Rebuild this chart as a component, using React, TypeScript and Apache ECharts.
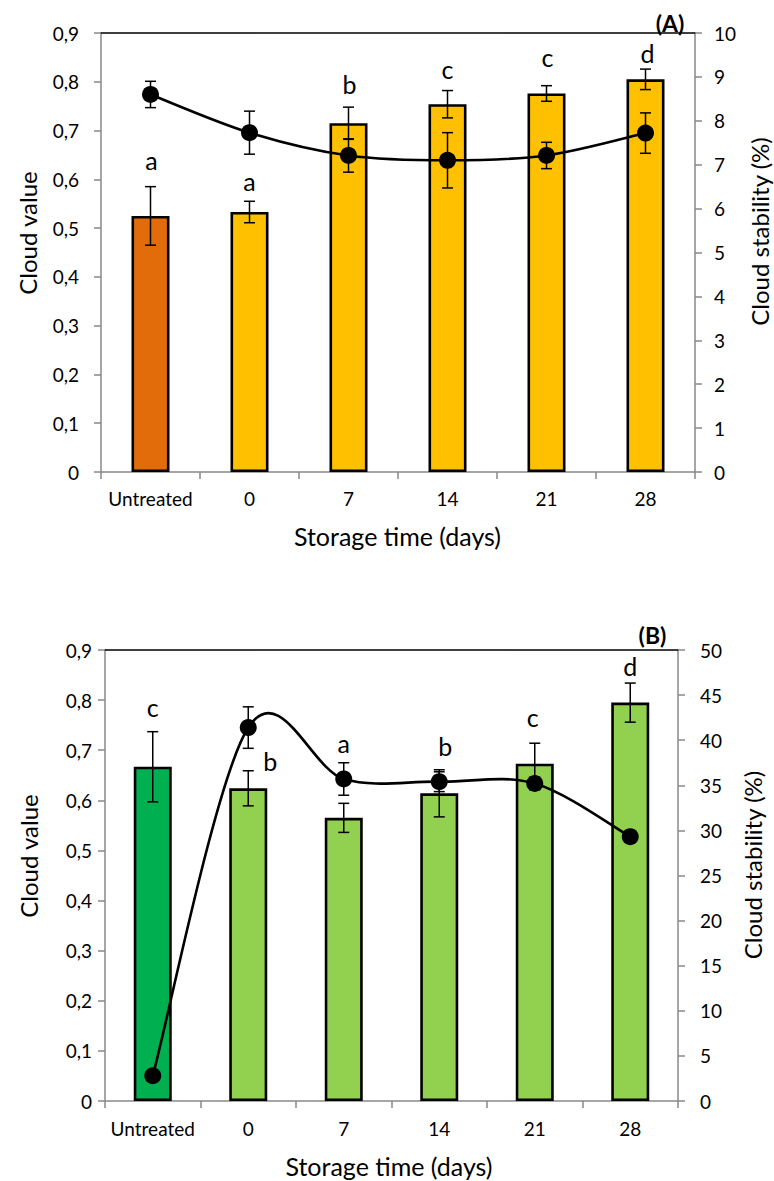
import React, { useEffect, useRef } from "react";
import * as echarts from "echarts";

const categories = ["Untreated", "0", "7", "14", "21", "28"];

// Panel A
const cloudValueA = [0.525, 0.533, 0.715, 0.754, 0.776, 0.805];
const cloudValueErrA = [0.06, 0.022, 0.033, 0.028, 0.016, 0.021];
const stabilityA = [8.6, 7.73, 7.21, 7.1, 7.21, 7.72];
const stabilityErrA = [0.3, 0.49, 0.38, 0.63, 0.3, 0.46];
const lettersA = ["a", "a", "b", "c", "c", "d"];
const letterYA = [0.619, 0.576, 0.776, 0.806, 0.831, 0.84];
const letterDxA = [1, 0, 1, 0, 1, 2];

// Panel B
const cloudValueB = [0.667, 0.624, 0.565, 0.614, 0.673, 0.795];
const cloudValueErrB = [0.07, 0.035, 0.029, 0.047, 0.041, 0.039];
const stabilityB = [2.8, 41.4, 35.7, 35.4, 35.2, 29.3];
const stabilityErrB = [0, 2.3, 1.8, 1.1, 0.7, 0];
const lettersB = ["c", "b", "a", "b", "c", "d"];
const letterYB = [0.767, 0.659, 0.695, 0.689, 0.747, 0.848];
const letterDxB = [0, 22, 0, 6, -2, 0];

const leftTicks = { min: 0, max: 0.9, interval: 0.1 };
const rightTicksA = { min: 0, max: 10, interval: 1 };
const rightTicksB = { min: 0, max: 50, interval: 5 };

const FONT = "Lato, 'Open Sans', sans-serif";
const AXIS_GRAY = "#898989";

const fmtComma = (v: number) => (v === 0 ? "0" : v.toFixed(1).replace(".", ","));

function errSeries(xi: number, yi: number, means: number[], errs: number[], z: number) {
  return {
    type: "custom",
    xAxisIndex: xi,
    yAxisIndex: yi,
    z,
    silent: true,
    data: means.map((m, i) => [i, m - errs[i], m + errs[i]]),
    encode: { x: 0, y: [1, 2] },
    renderItem: (params: any, api: any) => {
      const x = api.value(0);
      const lo = api.coord([x, api.value(1)]);
      const hi = api.coord([x, api.value(2)]);
      const h = 5.5;
      const st = { stroke: "#000", lineWidth: 1.5 };
      return {
        type: "group",
        children: [
          { type: "line", shape: { x1: lo[0], y1: lo[1], x2: hi[0], y2: hi[1] }, style: st },
          { type: "line", shape: { x1: lo[0] - h, y1: lo[1], x2: lo[0] + h, y2: lo[1] }, style: st },
          { type: "line", shape: { x1: hi[0] - h, y1: hi[1], x2: hi[0] + h, y2: hi[1] }, style: st },
        ],
      };
    },
  };
}

// Excel-style smoothed line (Catmull-Rom, control points at 1/6 of neighbour chord)
function smoothLineSeries(xi: number, yi: number, values: number[], z: number) {
  const n = values.length;
  return {
    type: "custom",
    xAxisIndex: xi,
    yAxisIndex: yi,
    z,
    silent: true,
    data: values.map((v, i) => [i, v]),
    encode: { x: 0, y: 1 },
    renderItem: (params: any, api: any) => {
      const i = params.dataIndex;
      if (i >= n - 1) return { type: "group", children: [] };
      const c = (k: number) => {
        const kk = Math.max(0, Math.min(n - 1, k));
        return api.coord([kk, values[kk]]);
      };
      const p0 = c(i - 1);
      const p1 = c(i);
      const p2 = c(i + 1);
      const p3 = c(i + 2);
      return {
        type: "bezierCurve",
        shape: {
          x1: p1[0],
          y1: p1[1],
          cpx1: p1[0] + (p2[0] - p0[0]) / 6,
          cpy1: p1[1] + (p2[1] - p0[1]) / 6,
          cpx2: p2[0] - (p3[0] - p1[0]) / 6,
          cpy2: p2[1] - (p3[1] - p1[1]) / 6,
          x2: p2[0],
          y2: p2[1],
        },
        style: { stroke: "#000", lineWidth: 2.6, fill: null },
      };
    },
  };
}

function letterSeries(xi: number, yi: number, letters: string[], ys: number[], dx: number[]) {
  const size = 25;
  return {
    type: "custom",
    xAxisIndex: xi,
    yAxisIndex: yi,
    z: 10,
    silent: true,
    data: ys.map((y, i) => [i, y]),
    encode: { x: 0, y: 1 },
    renderItem: (params: any, api: any) => {
      const i = params.dataIndex;
      const p = api.coord([api.value(0), api.value(1)]);
      return {
        type: "text",
        style: {
          text: letters[i],
          x: p[0] + dx[i],
          y: p[1] - size * 0.39,
          align: "center",
          verticalAlign: "middle",
          font: `${size}px ${FONT}`,
          fill: "#000",
        },
      };
    },
  };
}

function panelAxes(gi: number, rightTicks: any, leftMargin: number, rightMargin: number, xMargin: number) {
  const xAxes = [
    {
      type: "category",
      gridIndex: gi,
      data: categories,
      boundaryGap: true,
      axisLine: { show: true, lineStyle: { color: AXIS_GRAY, width: 1.5 } },
      axisTick: { show: true, inside: false, length: 7, interval: 0, lineStyle: { color: AXIS_GRAY, width: 1.5 } },
      axisLabel: { color: "#000", fontFamily: FONT, fontSize: 19, margin: xMargin, interval: 0 },
      splitLine: { show: false },
    },
    {
      type: "category",
      gridIndex: gi,
      position: "top",
      data: categories,
      axisLine: { show: true, onZero: false, lineStyle: { color: "#000", width: 1.5 } },
      axisTick: { show: false },
      axisLabel: { show: false },
      splitLine: { show: false },
    },
  ];
  const yAxes = [
    {
      type: "value",
      gridIndex: gi,
      position: "left",
      ...leftTicks,
      axisLine: { show: true, lineStyle: { color: AXIS_GRAY, width: 1.5 } },
      axisTick: { show: true, inside: false, length: 7, lineStyle: { color: AXIS_GRAY, width: 1.5 } },
      axisLabel: { color: "#000", fontFamily: FONT, fontSize: 19, margin: leftMargin, formatter: fmtComma },
      splitLine: { show: false },
    },
    {
      type: "value",
      gridIndex: gi,
      position: "right",
      ...rightTicks,
      axisLine: { show: true, lineStyle: { color: AXIS_GRAY, width: 1.5 } },
      axisTick: { show: true, inside: false, length: 7, lineStyle: { color: AXIS_GRAY, width: 1.5 } },
      axisLabel: { color: "#000", fontFamily: FONT, fontSize: 19, margin: rightMargin },
      splitLine: { show: false },
    },
  ];
  return { xAxes, yAxes };
}

function panelSeries(
  base: number,
  values: number[],
  errs: number[],
  stab: number[],
  stabErr: number[],
  firstColor: string,
  restColor: string,
  letters: string[],
  letterY: number[],
  letterDx: number[]
) {
  const xi = base;
  const yl = base;
  const yr = base + 1;
  return [
    {
      type: "bar",
      xAxisIndex: xi,
      yAxisIndex: yl,
      barWidth: 38,
      z: 2,
      data: values.map((v, i) => ({
        value: v,
        itemStyle: { color: i === 0 ? firstColor : restColor, borderColor: "#000", borderWidth: 2.6 },
      })),
    },
    errSeries(xi, yl, values, errs, 3),
    errSeries(xi, yr, stab, stabErr, 4),
    smoothLineSeries(xi, yr, stab, 5),
    {
      type: "scatter",
      xAxisIndex: xi,
      yAxisIndex: yr,
      z: 6,
      silent: true,
      data: stab.map((v, i) => [i, v]),
      symbol: "circle",
      symbolSize: 17,
      itemStyle: { color: "#000", opacity: 1 },
    },
    letterSeries(xi, yl, letters, letterY, letterDx),
  ];
}

function textEl(text: string, x: number, y: number, size: number, rotate = 0, bold = false) {
  return {
    type: "text",
    x,
    y,
    rotation: rotate,
    style: {
      text,
      x: 0,
      y: 0,
      align: "center",
      verticalAlign: "middle",
      font: `${bold ? "bold " : ""}${size}px ${FONT}`,
      fill: "#000",
    },
  };
}

export default function App() {
  const ref = useRef<HTMLDivElement>(null);
  useEffect(() => {
    if (!ref.current) return;
    const chart = echarts.init(ref.current, undefined, { renderer: "svg" });
    const a = panelAxes(0, rightTicksA, 22, 19, 17);
    const b = panelAxes(1, rightTicksB, 13, 22, 18);
    const option: any = {
      animation: false,
      backgroundColor: "#fff",
      textStyle: { fontFamily: FONT },
      grid: [
        { left: 101, top: 33, width: 594, height: 439, containLabel: false },
        { left: 105, top: 650, width: 573, height: 451, containLabel: false },
      ],
      xAxis: [...a.xAxes, ...b.xAxes],
      yAxis: [...a.yAxes, ...b.yAxes],
      series: [
        ...panelSeries(0, cloudValueA, cloudValueErrA, stabilityA, stabilityErrA, "#E36C0A", "#FFC000", lettersA, letterYA, letterDxA),
        ...panelSeries(2, cloudValueB, cloudValueErrB, stabilityB, stabilityErrB, "#00B050", "#92D050", lettersB, letterYB, letterDxB),
      ],
      graphic: [
        textEl("Storage time (days)", 397.5, 536, 25),
        textEl("Storage time (days)", 389, 1166, 25),
        textEl("Cloud value", 27, 233, 24, Math.PI / 2),
        textEl("Cloud value", 28, 856, 24, Math.PI / 2),
        textEl("Cloud stability (%)", 759, 231.5, 24, Math.PI / 2),
        textEl("Cloud stability (%)", 752, 865, 24, Math.PI / 2),
        textEl("(A)", 670, 23, 23, 0, true),
        textEl("(B)", 652.5, 635, 23, 0, true),
      ],
    };
    chart.setOption(option);
    return () => chart.dispose();
  }, []);
  return (
    <div
      ref={ref}
      style={{ position: "absolute", left: 0, top: 0, width: 774, height: 1181, background: "#fff" }}
    />
  );
}
